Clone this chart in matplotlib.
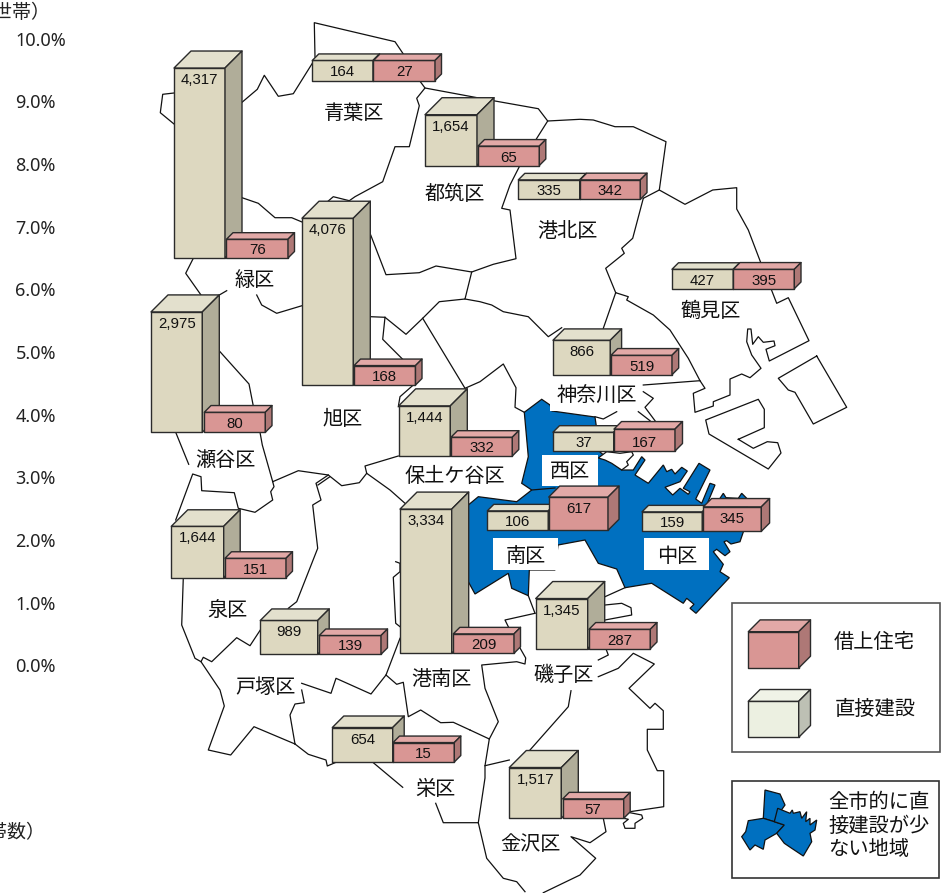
import matplotlib
matplotlib.use("Agg")
import matplotlib.pyplot as plt
from matplotlib.patches import Polygon, Rectangle

plt.rcParams['font.family'] = ['Noto Sans CJK JP', 'DejaVu Sans']

# Data: households and bar height in percent, one entry per ward
WARDS = ["青葉区", "都筑区", "港北区", "鶴見区", "緑区", "旭区", "瀬谷区", "神奈川区", "保土ケ谷区",
         "西区", "南区", "中区", "磯子区", "金沢区", "港南区", "泉区", "戸塚区", "栄区"]
DIRECT_COUNT = ["164", "1,654", "335", "427", "4,317", "4,076", "2,975", "866", "1,444",
                "37", "106", "159", "1,345", "1,517", "3,334", "1,644", "989", "654"]
RENTED_COUNT = ["27", "65", "342", "395", "76", "168", "80", "519", "332",
                "167", "617", "345", "287", "57", "209", "151", "139", "15"]
DIRECT_PCT = [0.32, 0.81, 0.31, 0.31, 3.03, 2.66, 1.92, 0.55, 0.80,
              0.30, 0.31, 0.31, 0.80, 0.81, 2.30, 0.82, 0.54, 0.55]
RENTED_PCT = [0.32, 0.31, 0.31, 0.31, 0.30, 0.31, 0.32, 0.31, 0.30,
              0.35, 0.53, 0.39, 0.31, 0.31, 0.31, 0.31, 0.30, 0.31]
AXIS_LABELS = ["10.0%", "9.0%", "8.0%", "7.0%", "6.0%", "5.0%", "4.0%", "3.0%", "2.0%", "1.0%", "0.0%"]
AXIS_PCT = [10, 9, 8, 7, 6, 5, 4, 3, 2, 1, 0]

# Layout in image pixels
PX_PER_PCT = 62.7
AXIS_ZERO_Y = 667.5
BASE_Y = [80.5, 165.5, 199.3, 288.7, 258, 385, 432.3, 374.7, 456,
          451, 530.3, 531.3, 648.7, 818.3, 653.3, 577.7, 654.3, 762]
DIRECT_X = [312.3, 425, 518.3, 672, 174, 302, 151, 553, 398.7,
            553, 487.3, 642, 535.7, 509.3, 400, 171.3, 260.3, 332.3]
DIRECT_W = [60.7, 52, 61.4, 61.3, 51, 51.3, 51.3, 57.3, 51.6,
            60.7, 61, 60.3, 52, 52, 51.7, 52.4, 57.4, 60.4]
DIRECT_D = [6.5, 17, 6.5, 6.5, 17, 17, 17, 11.3, 17,
            6.5, 6.5, 6.5, 17, 17, 17, 16.5, 11.5, 11.5]
RENTED_X = [373.5, 478, 580, 733.3, 226.5, 354, 204.3, 611, 451,
            614, 548.7, 703.3, 589, 562.7, 453.3, 225, 319.3, 393]
RENTED_W = [61.5, 61.3, 60.3, 61, 61.5, 61.5, 61, 61, 61.3,
            61, 59.3, 58, 61.3, 61, 60.7, 61, 61.7, 61.3]
RENTED_D = [6.5, 6.5, 6.7, 6.7, 6.5, 6.5, 6.7, 6.7, 6.5,
            7.5, 11, 8.3, 6.7, 6.5, 6.5, 6.5, 6.5, 6.5]
LABEL_XY = [(354, 112), (455, 193), (567.5, 230), (710.5, 310), (254.5, 278.5), (343, 418),
            (225, 459), (596.5, 395), (455, 475), (570, 470), (525.5, 555), (677.3, 555),
            (563.3, 674), (530.2, 843.3), (441.2, 677.7), (227.5, 609), (265.3, 686), (435.8, 788.3)]
LABEL_BOXES = [(550, 383, 87, 27.7), (542, 455, 56, 31), (492.7, 538, 65.6, 32), (644, 538.3, 65, 31.7)]

MAP_LINES = [
    [(315, 57), (314.3, 22.7), (395, 41.7), (403.3, 54)],
    [(242, 102.3), (257.3, 89.3), (264.3, 75.3), (278.3, 96.3), (293.3, 93.7), (312.3, 63.3)],
    [(174, 93), (162.7, 94.3), (160.3, 112.7), (174, 124)],
    [(419.3, 80.3), (425, 88), (416.7, 98.3), (419.3, 105.7), (409.3, 146.7), (395, 146.7),
     (382.7, 181.7), (355, 196.7), (349.3, 200.7), (333.3, 196.7), (328.3, 201)],
    [(425, 88), (495, 101), (538.3, 108.7), (547.7, 121), (535.7, 140)],
    [(519.3, 166.7), (510, 185), (501.7, 208.3), (510, 210), (516, 258.7), (493.3, 264.3), (471.7, 272),
     (436, 266), (419.3, 272.7), (386, 274.7), (370.7, 235)],
    [(471.7, 272), (465, 299), (439.3, 301.7), (422.7, 318.3), (406, 334.3), (385, 317.3), (370.7, 316.7)],
    [(385, 317.3), (382.7, 339.3), (402.7, 359.3)],
    [(465, 299), (480, 301.7), (491.7, 305), (503.3, 311.7), (528.3, 316.7), (548.3, 336.7), (561.7, 327.7)],
    [(603.3, 328.3), (615.7, 292.7)],
    [(547.7, 121), (580, 119.3), (593.3, 120), (615, 126.7), (633.3, 126.7), (666, 141.7), (659.3, 190), (643.3, 198.3)],
    [(643.3, 198.3), (632.7, 238.3), (621.7, 248.3), (624.3, 253.3), (605.7, 268.3), (615.7, 292.7)],
    [(659.3, 190), (685, 204.3), (712.7, 190), (736.7, 187.7), (736.7, 209), (748.3, 230), (761, 263.3)],
    [(771, 288.7), (776.7, 303.3), (788.3, 297.7), (809, 340.7), (769.3, 361), (766, 349.3), (775, 345.7),
     (774, 341), (763.3, 342.3), (758.3, 336.7), (752.7, 344.3), (751, 329), (747.7, 329), (746.7, 341.7),
     (751.7, 355), (761, 368.3), (750, 377.7), (741.7, 374), (730, 379), (730, 395), (713.3, 401.7),
     (713.3, 406), (695, 412.3), (693.3, 393.3), (705, 388.3), (700, 380.7), (643.3, 385)],
    [(615.7, 292.7), (628.3, 296.7), (626.7, 300), (653.3, 315), (670, 330), (688.3, 358.3), (700, 380.7)],
    [(816.7, 356), (846.7, 407.3), (813.3, 424), (795, 392.3), (788.3, 390), (778.3, 378.3), (816.7, 356)],
    [(738.3, 439.3), (764.3, 427.7), (764.3, 409.3), (758.3, 399.3), (705.7, 420), (709, 434), (768.3, 469),
     (781, 453), (777.7, 442.7), (767.3, 441.7), (753.3, 448.3), (738.3, 439.3)],
    [(643.3, 391.7), (653.3, 398.3), (645, 407.3), (655, 420.7)],
    [(638.3, 411.7), (650, 420.7)],
    [(595, 416.7), (603.3, 419), (616.7, 411.7)],
    [(465, 388.3), (480, 381.7), (503.3, 364), (516, 387.7), (515, 407.3), (524.3, 412.3)],
    [(422.7, 318.3), (465, 388.3)],
    [(413.3, 385), (400, 396.7), (398.3, 406.7)],
    [(398.3, 456), (365, 466), (366.7, 473.3), (359.3, 482.7), (341.7, 485.7), (328.3, 475), (298.3, 470.7),
     (272.7, 481.7), (274, 486.7), (270.7, 491.7), (272.7, 500), (255, 512.3), (238.3, 508.3),
     (234.3, 492.7), (201.7, 490.7), (201, 476.7), (192.7, 474), (175.7, 520)],
    [(175.7, 432.3), (188.7, 464.3)],
    [(220, 351.7), (249, 384), (253.3, 406)],
    [(260, 432.3), (262.3, 445), (272.7, 481.7)],
    [(242, 197.7), (258.3, 203.3), (275, 217.7), (291.7, 217.7), (302, 222)],
    [(193.3, 258.3), (185.7, 273.3), (201, 295)],
    [(219.3, 295), (226.7, 290.7)],
    [(256.7, 295), (261.7, 305), (276.7, 313.3), (302, 305.7)],
    [(328.3, 475), (316, 483.3), (321, 500), (312.7, 505), (317.7, 548.3), (296.7, 601.7), (288.3, 608.3)],
    [(329.5, 477), (318, 485)],
    [(183.3, 577.7), (181.7, 625), (195, 658.3), (201, 661.7), (203.3, 657.3), (211.7, 661.7),
     (236.7, 637.7), (250, 645.7), (260.3, 630)],
    [(201, 661.7), (220, 690), (224.3, 706), (208.3, 750), (230.7, 755), (254, 726.7), (295, 744)],
    [(301.7, 683.3), (331, 693.3), (336, 678.3), (371, 694), (386, 675), (400, 638.3)],
    [(301.7, 690), (304.3, 702.7), (295, 704), (290, 715), (295, 744)],
    [(295, 744), (308.3, 754.3), (326, 760), (327.3, 766), (336.7, 762)],
    [(373.3, 762.7), (402.7, 787.3)],
    [(435.7, 803.3), (443.3, 822.7), (478.3, 822.7), (486.7, 858.3), (503.3, 878.3), (516.7, 881.7), (525, 891.7)],
    [(543.3, 892.7), (580, 875), (595.7, 858.3), (571, 836.7), (590, 842.7), (606, 831.7), (603.3, 818.3)],
    [(630, 811.7), (663.7, 806.7), (663.7, 770.7), (657.3, 770.7), (647.3, 750), (647.3, 729.3), (663.3, 729.3),
     (663.3, 710.7), (655, 703.3), (650, 708.3), (629, 688.3), (654.3, 664), (633.3, 653.3), (618.3, 668.3), (598.3, 676.7)],
    [(630, 812.7), (641.7, 815), (642.7, 818.3), (635, 823.3), (635, 828.3), (625, 828.3), (623.3, 823.3),
     (628.3, 819.3), (624, 818.3)],
    [(571, 690.7), (568.3, 706.7), (530, 750)],
    [(485, 765.7), (509.3, 760)],
    [(470, 730), (489.3, 739), (485, 765.7), (485, 778), (478.3, 822.7)],
    [(489.3, 739), (498.3, 721.7), (485, 688.3), (481.7, 665), (516.7, 661.7), (525, 664), (525.7, 658), (520, 648)],
    [(598.3, 660), (608.3, 655), (606, 649)],
    [(386, 675), (396.7, 684.3), (403.3, 682.3), (408.3, 716.7), (420.7, 710), (440.7, 722.7), (453.3, 722.3), (470, 730)],
    [(395.7, 561.7), (400, 563.3), (400, 571.7), (393.3, 577.3), (395.7, 623.3), (400, 626.7)],
    [(366.7, 473.3), (390, 490), (405, 503.3)],
    [(535, 613.3), (505, 620), (508.3, 626.7)],
    [(528.3, 595.7), (535, 613.3)],
    [(605, 605), (621.7, 603.3), (631, 607.7), (631.7, 615), (605, 620)],
    [(605, 596.7), (625, 587.7)],
]

# 西区, 南区 and 中区, drawn as one blue shape
BLUE_AREA = [(524.3, 412.3), (541.7, 399.3), (550, 405), (552, 411), (595, 417), (600, 452), (621.7, 470),
             (633.3, 470), (641.7, 456.7), (645, 460), (635, 475), (648.3, 483.3), (663.3, 465), (666.7, 471.7),
             (671.7, 469.3), (675, 474), (681.7, 467.3), (687.3, 471), (680, 481.7), (665, 487.3), (672.7, 495),
             (680, 488.3), (688.3, 494.3), (690, 491.7), (683.3, 488.3), (699, 463.3), (710, 470), (695.7, 499),
             (701.7, 503.3), (710, 483.3), (715, 485), (706.7, 505), (720, 498.3), (723.3, 493.3), (726, 497.7),
             (738.3, 498.3), (741.7, 493.3), (746.7, 498.3), (748, 520), (743.3, 532), (740, 541.7), (731, 544),
             (726.7, 540.7), (724, 541.7), (730, 551.7), (725, 555.7), (716.7, 549.3), (713.3, 551.7),
             (723.3, 564.3), (720, 571.7), (729.3, 577.7), (696, 613.3), (690, 608.3), (694, 604.3),
             (686.7, 598.3), (683.3, 603.3), (651.7, 583.3), (625, 587.7), (616.7, 569), (598.3, 563.3),
             (585, 540), (558, 545), (555, 570), (529.3, 570), (528.3, 595.7), (511.7, 588.3), (508.3, 573.3),
             (475, 594), (468.3, 581.7), (468.3, 505), (478.3, 496.7), (516.7, 501.7), (531.7, 490),
             (521.7, 483.3), (528.3, 456.7)]
BLUE_DIVIDER = [(531.7, 490), (555, 488)]
WHITE_PIER = [(598.3, 458), (606.7, 451.7), (620, 453.3), (631.7, 451.7), (633.3, 455), (626.7, 461.7),
              (628.3, 465), (621.7, 470), (611.7, 463.3), (605, 460)]

# Small key map in the second legend box
KEY_SHAPES = [
    [(765, 790), (780, 794), (785, 805), (776.7, 816.7), (774.3, 821.7), (763.3, 818.3)],
    [(748.3, 820.7), (763.3, 818.3), (774.3, 821.7), (784.3, 825), (776.7, 833.3), (765, 840), (763.3, 849.3),
     (755, 845), (750, 850), (741.7, 836.7), (745.7, 831.7)],
    [(777.7, 808.3), (790, 813.3), (792.3, 810), (793.3, 813.3), (800, 811.7), (801.7, 818.3), (806.7, 811.7),
     (805.7, 821.7), (810, 818.3), (810, 825), (816.7, 820), (815, 830), (810, 833.3), (811.7, 841.7),
     (803.3, 856), (791.7, 848.3), (784.3, 843.3), (776.7, 833.3), (784.3, 825), (774.3, 821.7)],
]

BLUE = "#0070C0"
DIRECT_COLORS = ("#DDD8C0", "#E3E0CD", "#B0AD99")
RENTED_COLORS = ("#D99694", "#E2A9A7", "#AE7876")
KEY_COLORS = ("#ECF0E1", "#F0F3E7", "#BDC0B4")
EDGE = "#2B2B2B"


def draw_box(ax, x, base, w, h, d, colors, zorder=3):
    """Front, top and side faces of one oblique bar."""
    front, top, side = colors
    top_y = base - h
    faces = [
        ([(x, base), (x + w, base), (x + w, top_y), (x, top_y)], front),
        ([(x, top_y), (x + w, top_y), (x + w + d, top_y - d), (x + d, top_y - d)], top),
        ([(x + w, base), (x + w + d, base - d), (x + w + d, top_y - d), (x + w, top_y)], side),
    ]
    for pts, color in faces:
        ax.add_patch(Polygon(pts, closed=True, facecolor=color, edgecolor=EDGE, linewidth=1.0,
                             joinstyle='round', zorder=zorder))


def count_label(ax, x, base, w, h, text):
    y = base - h + 12 if h >= 24 else base - 8
    ax.text(x + w / 2, y, text, ha='center', va='center', fontsize=10.8, color="#111111",
            family=['Liberation Sans', 'DejaVu Sans'], zorder=5)


fig = plt.figure(figsize=(9.53, 8.93), dpi=100)
ax = fig.add_axes([0, 0, 1, 1])
ax.set_xlim(0, 953)
ax.set_ylim(893, 0)
ax.axis('off')

# Left axis labels, only the text survives in the picture
for pct, label in zip(AXIS_PCT, AXIS_LABELS):
    ax.text(15.5, AXIS_ZERO_Y - pct * PX_PER_PCT, label, ha='left', va='center', fontsize=13,
            family=['Noto Sans', 'DejaVu Sans'], color="#222222")
ax.text(51, 12.5, "（世帯）", ha='right', va='center', fontsize=13.7, color="#222222")
ax.text(46, 833, "（世帯数）", ha='right', va='center', fontsize=13.7, color="#222222")

# Map
ax.add_patch(Polygon(BLUE_AREA, closed=True, facecolor=BLUE, edgecolor="#111111", linewidth=0.9, zorder=1))
ax.plot(*zip(*BLUE_DIVIDER), color="#111111", linewidth=0.9, zorder=1.1)
ax.add_patch(Polygon(WHITE_PIER, closed=True, facecolor="white", edgecolor="#111111", linewidth=0.9, zorder=1.1))
for line in MAP_LINES:
    ax.plot(*zip(*line), color="#111111", linewidth=0.9, solid_joinstyle='round', zorder=1.2)
for x, y, w, h in LABEL_BOXES:
    ax.add_patch(Rectangle((x, y), w, h, facecolor="white", edgecolor="none", zorder=1.5))

for name, (x, y) in zip(WARDS, LABEL_XY):
    ax.text(x, y + 1.5, name, ha='center', va='center', fontsize=14.5, color="#111111", zorder=2)

# Bars, direct first so the rented bar sits on top of its side face
for i in range(len(WARDS)):
    h_d = DIRECT_PCT[i] * PX_PER_PCT
    h_r = RENTED_PCT[i] * PX_PER_PCT
    draw_box(ax, DIRECT_X[i], BASE_Y[i], DIRECT_W[i], h_d, DIRECT_D[i], DIRECT_COLORS)
    draw_box(ax, RENTED_X[i], BASE_Y[i], RENTED_W[i], h_r, RENTED_D[i], RENTED_COLORS)
    count_label(ax, DIRECT_X[i], BASE_Y[i], DIRECT_W[i], h_d, DIRECT_COUNT[i])
    count_label(ax, RENTED_X[i], BASE_Y[i], RENTED_W[i], h_r, RENTED_COUNT[i])

# Legend boxes
ax.add_patch(Rectangle((732.3, 603.3), 208, 148.7, facecolor="white", edgecolor="#555555", linewidth=1.2, zorder=3))
ax.add_patch(Rectangle((731.7, 780.7), 207.6, 97, facecolor="white", edgecolor="#333333", linewidth=1.2, zorder=3))
draw_box(ax, 748.3, 668, 50.4, 36.3, 11.8, RENTED_COLORS, zorder=4)
draw_box(ax, 748.3, 737.3, 50.4, 36, 11.8, KEY_COLORS, zorder=4)
ax.text(873.8, 643, "借上住宅", ha='center', va='center', fontsize=14.6, color="#111111", zorder=5)
ax.text(875.5, 709, "直接建設", ha='center', va='center', fontsize=14.6, color="#111111", zorder=5)
for shape in KEY_SHAPES:
    ax.add_patch(Polygon(shape, closed=True, facecolor=BLUE, edgecolor="#111111", linewidth=0.9, zorder=4))
for y, line in zip([802, 826.3, 849.6], ["全市的に直", "接建設が少", "ない地域"]):
    ax.text(828.3, y, line, ha='left', va='center', fontsize=14.6, color="#111111", zorder=5)

fig.savefig("out.png", dpi=100)
